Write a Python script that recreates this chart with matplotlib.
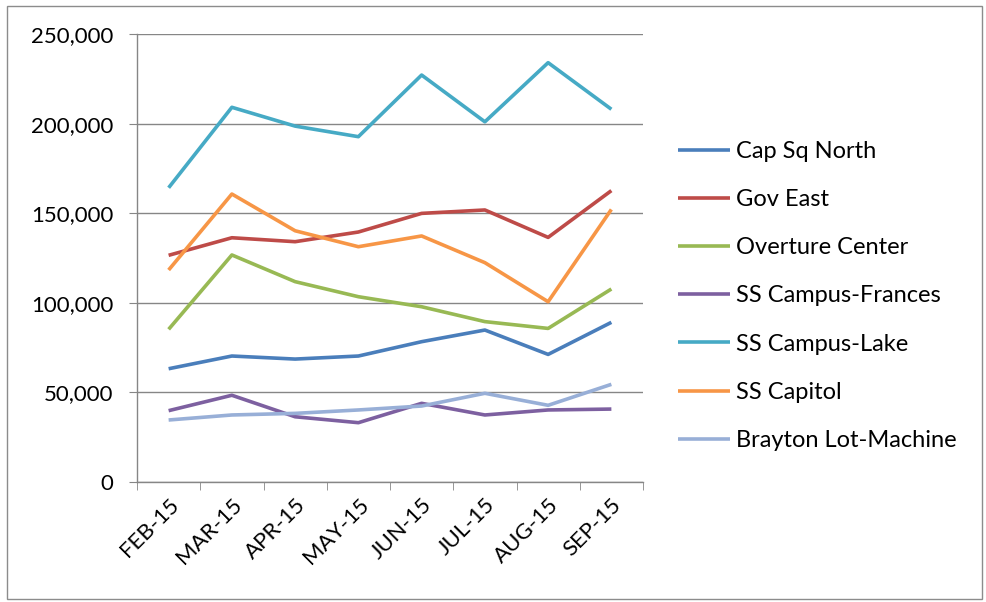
import numpy as np
import matplotlib.pyplot as plt
from matplotlib.patches import Rectangle
from matplotlib.ticker import FuncFormatter

plt.rcParams['font.family'] = ['Lato', 'DejaVu Sans']

months = ['FEB-15', 'MAR-15', 'APR-15', 'MAY-15', 'JUN-15', 'JUL-15', 'AUG-15', 'SEP-15']

cap_sq_north = [63200, 70300, 68600, 70300, 78300, 84800, 71200, 89100]
gov_east = [126500, 136300, 134100, 139500, 149900, 151800, 136500, 162600]
overture = [85200, 126700, 111800, 103400, 97800, 89500, 85700, 107700]
campus_frances = [39800, 48400, 36400, 33100, 43900, 37400, 40200, 40700]
campus_lake = [164200, 209100, 198600, 192700, 227100, 201000, 234000, 208000]
ss_capitol = [118300, 160700, 140200, 131300, 137300, 122400, 100600, 152100]
brayton = [34600, 37400, 38300, 40200, 42400, 49500, 42800, 54500]

series_names = ['Cap Sq North', 'Gov East', 'Overture Center', 'SS Campus-Frances',
                'SS Campus-Lake', 'SS Capitol', 'Brayton Lot-Machine']
series_vals = [cap_sq_north, gov_east, overture, campus_frances,
               campus_lake, ss_capitol, brayton]
colors = ['#4A7EBB', '#BE4B48', '#98B954', '#7D60A0', '#46AAC5', '#F79646', '#98AFD7']

fig = plt.figure(figsize=(9.86, 6.02), dpi=100)
ax = fig.add_axes([137/986, 120/602, 506/986, 448/602])

x = np.arange(len(months))
for name, vals, c in zip(series_names, series_vals, colors):
    ax.plot(x, vals, color=c, lw=2.6, label=name, solid_capstyle='butt')

grid_c = '#868686'
ax.set_ylim(0, 250000)
ax.set_xlim(-0.5, len(months) - 0.5)
ax.set_yticks(np.arange(0, 250001, 50000))
ax.yaxis.set_major_formatter(FuncFormatter(lambda v, p: f'{int(v):,}'))
ax.yaxis.grid(True, color=grid_c, lw=1)
ax.set_axisbelow(True)

ax.set_xticks(x)
ax.set_xticks(np.arange(-0.5, len(months)), minor=True)
ax.set_xticklabels(months, rotation=45, ha='right', rotation_mode='anchor')
ax.tick_params(axis='x', which='major', length=0, pad=9, labelsize=16, colors='#000000')
ax.tick_params(axis='x', which='minor', length=6, color=grid_c, direction='out')
ax.tick_params(axis='y', length=6, color=grid_c, labelsize=16, pad=11)

for s in ['top', 'right']:
    ax.spines[s].set_visible(False)
for s in ['left', 'bottom']:
    ax.spines[s].set_color(grid_c)
    ax.spines[s].set_linewidth(1)

leg = ax.legend(loc='center left', bbox_to_anchor=(678/986, 1 - 296/602),
                bbox_transform=fig.transFigure, frameon=False,
                fontsize=17, handlelength=2.2, handletextpad=0.25,
                labelspacing=1.15, borderaxespad=0, borderpad=0)

fig.patches.append(Rectangle((7/986, 3/602), 975/986, 593/602, transform=fig.transFigure,
                             fill=False, edgecolor='#8C8C8C', lw=1))

fig.savefig('out.png', dpi=100)
